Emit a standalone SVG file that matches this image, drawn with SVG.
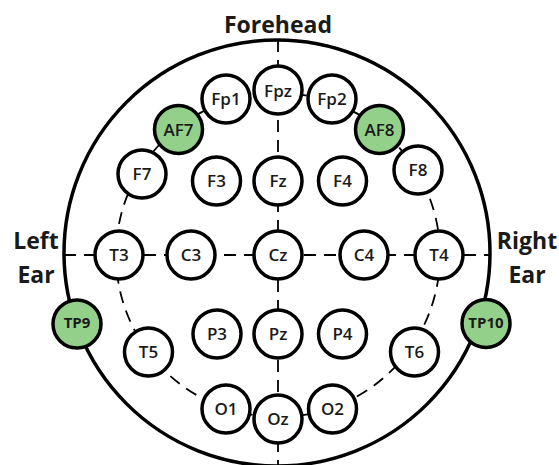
<svg xmlns="http://www.w3.org/2000/svg" width="559" height="465" viewBox="0 0 559 465">
<style>
.n circle{fill:#fff;stroke:#000;stroke-width:3.5}
.n.g circle{fill:#93d18b}
.n text{font-family:"Open Sans","Liberation Sans",sans-serif;font-size:17px;font-weight:600;text-anchor:middle;dominant-baseline:central;fill:#1a1a1a}
.n.s text{font-size:15px;font-weight:700}
.lbl{font-family:"Open Sans","Liberation Sans",sans-serif;font-size:23px;font-weight:700;fill:#1a1a1a;text-anchor:middle}
.d{fill:none;stroke:#000;stroke-width:1.8;stroke-dasharray:12 8}
</style>
<rect width="559" height="465" fill="#fff"/>
<g id="labels">
<text class="lbl" x="278" y="33">Forehead</text>
<text class="lbl" x="36" y="249">Left</text>
<text class="lbl" x="36" y="283">Ear</text>
<text class="lbl" x="527" y="249">Right</text>
<text class="lbl" x="527" y="283">Ear</text>
</g>
<g id="connectors">
<circle cx="277" cy="253" r="213" fill="none" stroke="#000" stroke-width="3.5"/>
<circle class="d" cx="278" cy="255" r="162"/>
<line class="d" x1="278" y1="40" x2="278" y2="466"/>
<line class="d" x1="64" y1="255" x2="490" y2="255"/>
</g>
<g id="Fpz" class="n"><circle cx="278" cy="90" r="24"/><text x="278" y="90">Fpz</text></g>
<g id="Fp1" class="n"><circle cx="226" cy="99" r="24"/><text x="226" y="98">Fp1</text></g>
<g id="Fp2" class="n"><circle cx="332" cy="99" r="24"/><text x="332" y="98">Fp2</text></g>
<g id="AF7" class="n g"><circle cx="178.5" cy="129.5" r="24"/><text x="178.5" y="129">AF7</text></g>
<g id="AF8" class="n g"><circle cx="379.5" cy="129.5" r="24"/><text x="379.5" y="129">AF8</text></g>
<g id="F7" class="n"><circle cx="142" cy="174" r="24"/><text x="142" y="173">F7</text></g>
<g id="F3" class="n"><circle cx="216.5" cy="181" r="24"/><text x="216.5" y="180">F3</text></g>
<g id="Fz" class="n"><circle cx="278" cy="181" r="24"/><text x="278" y="180">Fz</text></g>
<g id="F4" class="n"><circle cx="342.5" cy="181" r="24"/><text x="342.5" y="180">F4</text></g>
<g id="F8" class="n"><circle cx="418" cy="170" r="24"/><text x="418" y="169">F8</text></g>
<g id="T3" class="n"><circle cx="119" cy="255" r="24"/><text x="119" y="254">T3</text></g>
<g id="C3" class="n"><circle cx="191" cy="255" r="24"/><text x="191" y="254">C3</text></g>
<g id="Cz" class="n"><circle cx="278" cy="255" r="24"/><text x="278" y="254">Cz</text></g>
<g id="C4" class="n"><circle cx="364" cy="255" r="24"/><text x="364" y="254">C4</text></g>
<g id="T4" class="n"><circle cx="439" cy="255" r="24"/><text x="439" y="254">T4</text></g>
<g id="TP9" class="n g s"><circle cx="77" cy="324" r="24"/><text x="77" y="322">TP9</text></g>
<g id="TP10" class="n g s"><circle cx="486" cy="323.5" r="24"/><text x="486" y="322">TP10</text></g>
<g id="P3" class="n"><circle cx="217" cy="334" r="24"/><text x="217" y="333">P3</text></g>
<g id="Pz" class="n"><circle cx="278" cy="334" r="24"/><text x="278" y="333">Pz</text></g>
<g id="P4" class="n"><circle cx="342.5" cy="334" r="24"/><text x="342.5" y="333">P4</text></g>
<g id="T5" class="n"><circle cx="148.5" cy="352" r="24"/><text x="148.5" y="351">T5</text></g>
<g id="T6" class="n"><circle cx="414.5" cy="352" r="24"/><text x="414.5" y="351">T6</text></g>
<g id="O1" class="n"><circle cx="226" cy="409" r="24"/><text x="226" y="408">O1</text></g>
<g id="O2" class="n"><circle cx="332.5" cy="409" r="24"/><text x="332.5" y="408">O2</text></g>
<g id="Oz" class="n"><circle cx="278" cy="419" r="24" stroke-width="1.2"/><text x="278" y="418">Oz</text></g>
</svg>
